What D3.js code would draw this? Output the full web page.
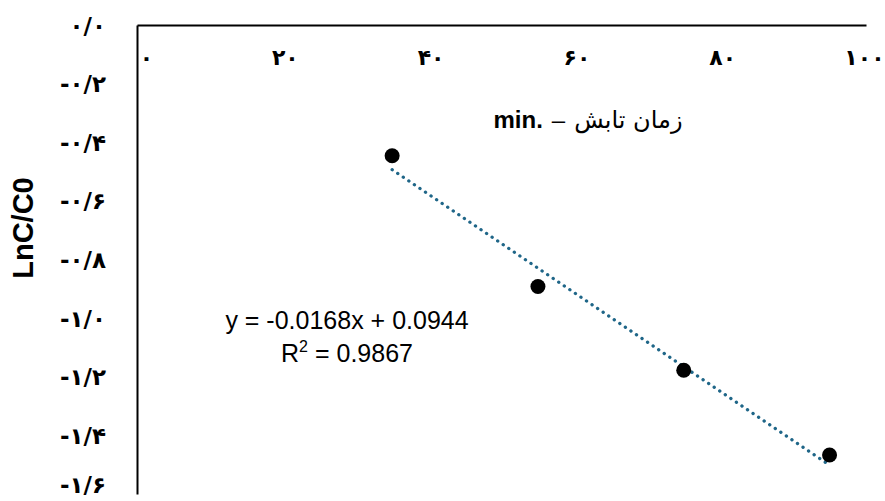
<!DOCTYPE html>
<html>
<head>
<meta charset="utf-8">
<script src="https://cdn.jsdelivr.net/npm/d3@7"></script>
<style>
  html, body { margin: 0; padding: 0; background: #fff; }
  svg { display: block; }
</style>
</head>
<body>
<svg id="chart" width="885" height="501"></svg>
<script>
// ---- data ----
const timeMin = [35, 55, 75, 95];
const lnCC0 = [-0.446, -0.892, -1.178, -1.467];
const xTicks = [0, 20, 40, 60, 80, 100];
const yTicks = [0, -0.2, -0.4, -0.6, -0.8, -1.0, -1.2, -1.4, -1.6];
const trendSlope = -0.0168;
const trendIntercept = 0.0944;
const equationText = "y = -0.0168x + 0.0944";
const r2Text = "0.9867";
const xTitlePersian = "زمان تابش";
const xTitleUnit = "min.";
const yTitle = "LnC/C0";

// ---- helpers ----
const faDigits = "۰۱۲۳۴۵۶۷۸۹";
function toFa(s) {
  return s.replace(/[0-9]/g, d => faDigits[+d]).replace(/\./g, "/");
}
function fmtY(v) {
  const a = Math.abs(v) < 1e-9 ? 0 : v;
  return (a < 0 ? "-" : "") + toFa(Math.abs(a).toFixed(1));
}
function fmtX(v) { return toFa(String(v)); }

const svg = d3.select("#chart");
const plotLeft = 137, plotRight = 866, plotTop = 25, plotBottom = 494;

const x = d3.scaleLinear().domain([0, 100]).range([plotLeft, plotRight]);
const y = d3.scaleLinear().domain([0, -1.6]).range([plotTop, plotBottom]);

const xAxis = d3.axisTop(x).tickValues(xTicks).tickSize(0).tickFormat(fmtX);
const gx = svg.append("g").attr("transform", `translate(0,${y(0)})`).call(xAxis);
gx.select(".domain").attr("stroke", "#000").attr("stroke-width", 2);
gx.selectAll(".tick text")
  .attr("y", 40)
  .attr("dy", 0)
  .attr("dx", d => d === 0 ? 9 : (d === 100 ? -2 : 2))
  .attr("fill", "#000")
  .style("font-family", "'DejaVu Sans', sans-serif")
  .style("font-weight", "bold")
  .style("font-size", "22px")
  .attr("text-anchor", "middle");

const yAxis = d3.axisLeft(y).tickValues(yTicks).tickSize(0).tickFormat(fmtY);
const gy = svg.append("g").attr("transform", `translate(${x(0)},0)`).call(yAxis);
gy.select(".domain").attr("stroke", "#000").attr("stroke-width", 2);
gy.selectAll(".tick text")
  .attr("x", -31)
  .attr("dy", d => d <= -1.55 ? "-0.05em" : "0.35em")
  .attr("fill", "#000")
  .style("font-family", "'DejaVu Sans', sans-serif")
  .style("font-weight", "bold")
  .style("font-size", "23px")
  .attr("text-anchor", "end");

const xMin = d3.min(timeMin), xMax = d3.max(timeMin);
svg.append("line")
  .attr("x1", x(xMin)).attr("y1", y(trendSlope * xMin + trendIntercept))
  .attr("x2", x(xMax)).attr("y2", y(trendSlope * xMax + trendIntercept))
  .attr("stroke", "#1f6688")
  .attr("stroke-width", 3.3)
  .attr("stroke-linecap", "round")
  .attr("stroke-dasharray", "0.1 6.6");

svg.append("g").selectAll("circle")
  .data(timeMin.map((t, i) => [t, lnCC0[i]]))
  .join("circle")
  .attr("cx", d => x(d[0]))
  .attr("cy", d => y(d[1]))
  .attr("r", 7.5)
  .attr("fill", "#000");

// x title, laid out in visual order: "min." – Persian
const titleY = 128;
const tUnit = svg.append("text")
  .attr("y", titleY)
  .style("font-family", "'Liberation Sans', Arial, sans-serif")
  .style("font-weight", "bold")
  .style("font-size", "24px")
  .attr("fill", "#000")
  .text(xTitleUnit);
const tDash = svg.append("text")
  .attr("y", titleY)
  .style("font-family", "'Liberation Sans', Arial, sans-serif")
  .style("font-size", "24px")
  .attr("fill", "#000")
  .text("–");
const tFa = svg.append("text")
  .attr("y", titleY)
  .attr("direction", "rtl")
  .attr("text-anchor", "start")
  .style("font-family", "'DejaVu Sans', sans-serif")
  .style("font-size", "24px")
  .attr("fill", "#000")
  .text(xTitlePersian);
const wUnit = tUnit.node().getComputedTextLength();
const wDash = tDash.node().getComputedTextLength();
const wFa = tFa.node().getComputedTextLength();
const gap = 9;
const total = wUnit + gap + wDash + gap + wFa;
const startX = 588 - total / 2;
tUnit.attr("x", startX);
tDash.attr("x", startX + wUnit + gap);
tFa.attr("x", startX + total); // rtl start = right edge

svg.append("text")
  .attr("transform", "translate(33,228) rotate(-90)")
  .attr("text-anchor", "middle")
  .style("font-family", "'Liberation Sans', Arial, sans-serif")
  .style("font-weight", "bold")
  .style("font-size", "29px")
  .attr("fill", "#000")
  .text(yTitle);

const eqG = svg.append("g")
  .style("font-family", "'Liberation Sans', Arial, sans-serif")
  .style("font-size", "25px")
  .attr("fill", "#000");
eqG.append("text").attr("x", 347).attr("y", 329).attr("text-anchor", "middle").text(equationText);
const r2 = eqG.append("text").attr("x", 347).attr("y", 362).attr("text-anchor", "middle");
r2.append("tspan").text("R");
r2.append("tspan").attr("dy", -10).style("font-size", "16px").text("2");
r2.append("tspan").attr("dy", 10).text(" = " + r2Text);
</script>
</body>
</html>
